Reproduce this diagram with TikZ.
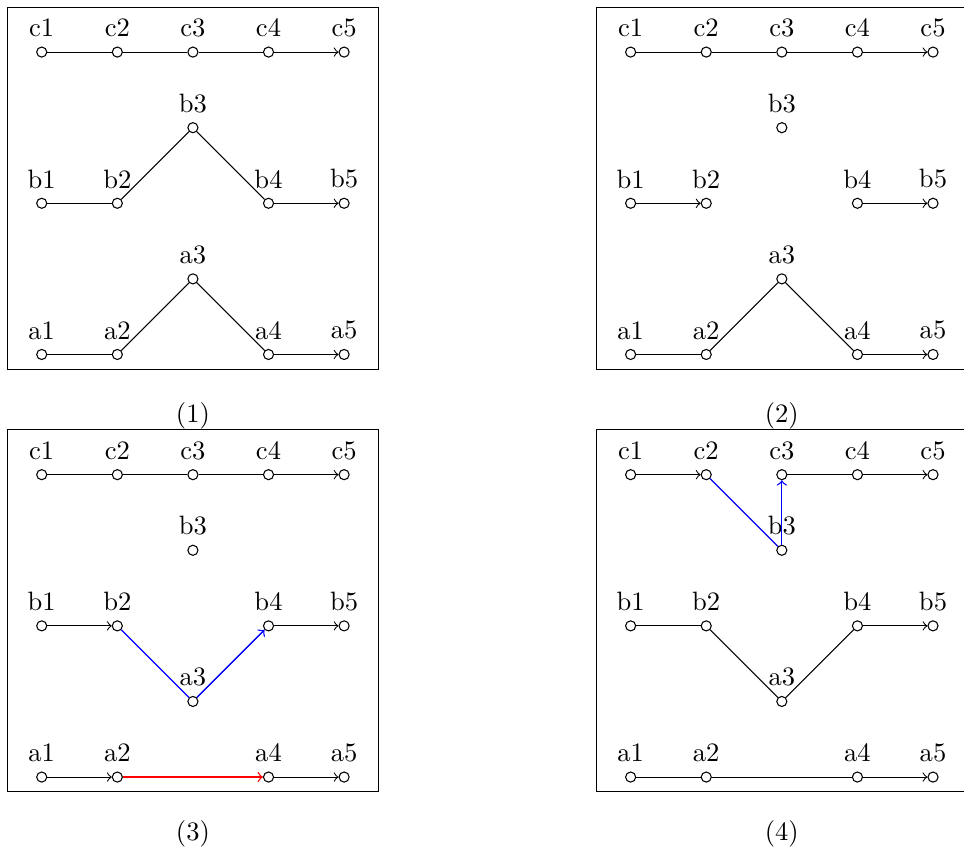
\documentclass[tikz,border=0pt]{standalone}
\usetikzlibrary{arrows,positioning}
\tikzset{
  vtx/.style={circle, draw=black, fill=white, inner sep=0pt, minimum size=3.8pt},
  ln/.style={draw=black},
  lnB/.style={color=blue, line width=0.5pt},
  arr/.style={->, draw=black},
  arrB/.style={->, color=blue, line width=0.5pt},
  arrR/.style={->, color=red, line width=0.5pt},
  frm/.style={draw=black},
}
% the fifteen vertices of one panel, names prefixed by #1
\newcommand{\panelnodes}[1]{%
  \node[vtx, label=above:a1] (#1a1) at (0,0) {};
  \node[vtx, label=above:a2, right=of #1a1] (#1a2) {};
  \node[vtx, label=above:a4, right=2cm of #1a2] (#1a4) {};
  \node[vtx, label=above:a5, right=of #1a4] (#1a5) {};
  \node[vtx, label=above:a3, above right=1cm and 1cm of #1a2] (#1a3) {};
  \node[vtx, label=above:b1, above=2cm of #1a1] (#1b1) {};
  \node[vtx, label=above:b2, right=of #1b1] (#1b2) {};
  \node[vtx, label=above:b4, right=2cm of #1b2] (#1b4) {};
  \node[vtx, label=above:b5, right=of #1b4] (#1b5) {};
  \node[vtx, label=above:b3, above right=1cm and 1cm of #1b2] (#1b3) {};
  \node[vtx, label=above:c1, above=4cm of #1a1] (#1c1) {};
  \node[vtx, label=above:c2, right=of #1c1] (#1c2) {};
  \node[vtx, label=above:c3, right=of #1c2] (#1c3) {};
  \node[vtx, label=above:c4, right=of #1c3] (#1c4) {};
  \node[vtx, label=above:c5, right=of #1c4] (#1c5) {};
  \draw[frm] (-0.455,-0.195) rectangle (4.458,4.593);
}

\begin{document}
\begin{tikzpicture}[node distance=1cm, on grid]
  \useasboundingbox (-0.552,-6.554) rectangle (12.2,4.689);

  % (1)
  \begin{scope}
    \panelnodes{p}
    \draw[ln] (pc1) -- (pc2); \draw[ln] (pc2) -- (pc3); \draw[ln] (pc3) -- (pc4); \draw[arr] (pc4) -- (pc5);
    \draw[ln] (pb1) -- (pb2); \draw[ln] (pb2) -- (pb3); \draw[ln] (pb3) -- (pb4); \draw[arr] (pb4) -- (pb5);
    \draw[ln] (pa1) -- (pa2); \draw[ln] (pa2) -- (pa3); \draw[ln] (pa3) -- (pa4); \draw[arr] (pa4) -- (pa5);
    \node (cap1) at (2,-0.807) {(1)};
  \end{scope}

  % (2)
  \begin{scope}[shift={(7.79,0)}]
    \panelnodes{q}
    \draw[ln] (qc1) -- (qc2); \draw[ln] (qc2) -- (qc3); \draw[ln] (qc3) -- (qc4); \draw[arr] (qc4) -- (qc5);
    \draw[arr] (qb1) -- (qb2); \draw[arr] (qb4) -- (qb5);
    \draw[ln] (qa1) -- (qa2); \draw[ln] (qa2) -- (qa3); \draw[ln] (qa3) -- (qa4); \draw[arr] (qa4) -- (qa5);
    \node (cap2) at (2,-0.807) {(2)};
  \end{scope}

  % (3)
  \begin{scope}[shift={(0,-5.59)}]
    \panelnodes{r}
    \draw[ln] (rc1) -- (rc2); \draw[ln] (rc2) -- (rc3); \draw[ln] (rc3) -- (rc4); \draw[arr] (rc4) -- (rc5);
    \draw[arr] (rb1) -- (rb2); \draw[lnB] (rb2) -- (ra3); \draw[arrB] (ra3) -- (rb4); \draw[arr] (rb4) -- (rb5);
    \draw[arr] (ra1) -- (ra2); \draw[arrR] (ra2) -- (ra4); \draw[arr] (ra4) -- (ra5);
    \node (cap3) at (2,-0.747) {(3)};
  \end{scope}

  % (4)
  \begin{scope}[shift={(7.79,-5.59)}]
    \panelnodes{s}
    \draw[arr] (sc1) -- (sc2); \draw[lnB] (sc2) -- (sb3); \draw[arrB] (sb3) -- (sc3); \draw[ln] (sc3) -- (sc4); \draw[arr] (sc4) -- (sc5);
    \draw[ln] (sb1) -- (sb2); \draw[ln] (sb2) -- (sa3); \draw[ln] (sa3) -- (sb4); \draw[arr] (sb4) -- (sb5);
    \draw[ln] (sa1) -- (sa2); \draw[ln] (sa2) -- (sa4); \draw[arr] (sa4) -- (sa5);
    \node (cap4) at (2,-0.747) {(4)};
  \end{scope}
\end{tikzpicture}
\end{document}
